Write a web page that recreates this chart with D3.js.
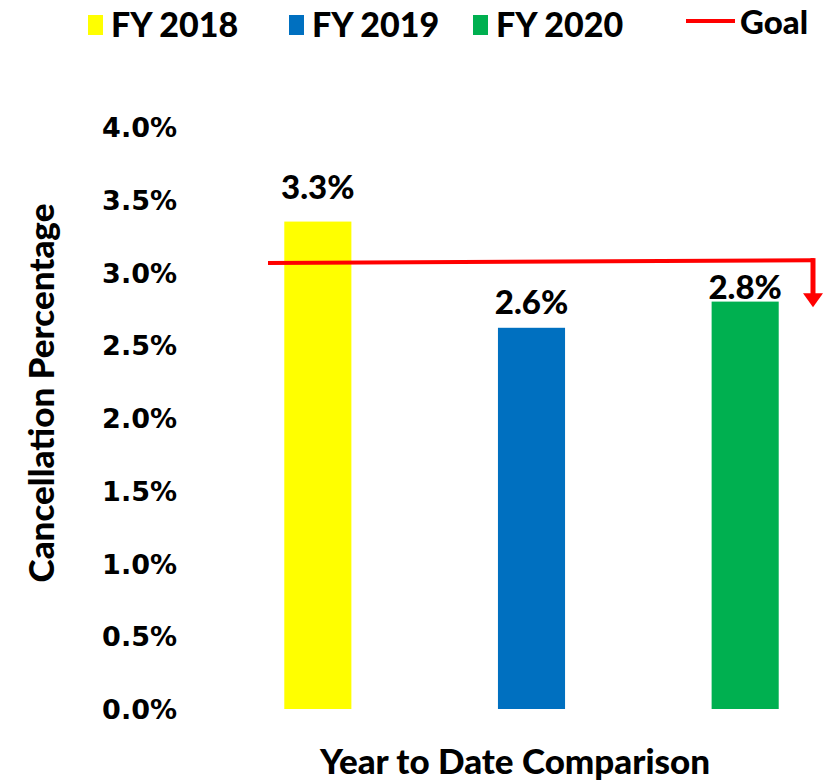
<!DOCTYPE html>
<html>
<head>
<meta charset="utf-8">
<script src="https://cdn.jsdelivr.net/npm/d3@7"></script>
<style>
  body { margin: 0; background: #fff; }
  text { fill: #000; }
  .lbl { font-family: Lato, "Open Sans", sans-serif; font-weight: 900; }
</style>
</head>
<body>
<div id="viz"></div>
<script>
// chart data
categories = ['FY 2018', 'FY 2019', 'FY 2020'];
values = [0.0335, 0.0262, 0.0280];
valueLabels = ['3.3%', '2.6%', '2.8%'];
colors = ['#ffff00', '#0070c0', '#00b050'];
goal = [0.03065, 0.03085]; // goal line, drawn slightly off level in the original
yTicks = [0, 0.005, 0.01, 0.015, 0.02, 0.025, 0.03, 0.035, 0.04];

width = 837;
height = 781;
labelLift = [23, 14, 3]; // labels sit at uneven heights above the bars

svg = d3.select('#viz').append('svg')
	.attr('width', width)
	.attr('height', height);

// scales
yScale = d3.scaleLinear()
	.domain([0, 0.04])
	.range([709, 127]);

xScale = d3.scaleBand()
	.domain(categories)
	.range([211, 852])
	.paddingInner(0.686)
	.paddingOuter(0.343);

// y tick labels (no axis line, no tick marks)
yAxis = svg.append('g')
	.attr('transform', 'translate(177,0)')
	.call(d3.axisLeft(yScale).tickValues(yTicks).tickSize(0).tickPadding(0)
		.tickFormat(d3.format('.1%')));
yAxis.select('.domain').remove();
yAxis.selectAll('text')
	.attr('font-family', 'DejaVu Sans, Verdana, sans-serif')
	.attr('font-size', 27)
	.attr('font-weight', 'bold')
	.attr('fill', '#000')
	.attr('dy', '0.36em');

// bars
svg.selectAll('rect.bar')
	.data(values)
	.enter()
	.append('rect')
	.attr('class', 'bar')
	.attr('x', (d, i) => xScale(categories[i]))
	.attr('width', xScale.bandwidth())
	.attr('y', d => yScale(d))
	.attr('height', d => yScale(0) - yScale(d))
	.attr('fill', (d, i) => colors[i]);

// value labels
svg.selectAll('text.val')
	.data(values)
	.enter()
	.append('text')
	.attr('class', 'lbl val')
	.attr('font-size', 33)
	.attr('text-anchor', 'middle')
	.attr('x', (d, i) => xScale(categories[i]) + xScale.bandwidth() / 2)
	.attr('y', (d, i) => yScale(d) - labelLift[i])
	.text((d, i) => valueLabels[i]);

// goal line with the down arrow at its end
gx1 = 268;
gx2 = 814;
svg.append('line')
	.attr('x1', gx1)
	.attr('x2', gx2)
	.attr('y1', yScale(goal[0]))
	.attr('y2', yScale(goal[1]))
	.attr('stroke', '#ff0000')
	.attr('stroke-width', 4);
svg.append('line')
	.attr('x1', gx2 - 1)
	.attr('x2', gx2 - 1)
	.attr('y1', yScale(goal[1]) - 2)
	.attr('y2', yScale(goal[1]) + 34)
	.attr('stroke', '#ff0000')
	.attr('stroke-width', 5);
svg.append('path')
	.attr('d', d3.line()([
		[gx2 - 11, yScale(goal[1]) + 33],
		[gx2 + 9, yScale(goal[1]) + 33],
		[gx2 - 1, yScale(goal[1]) + 47]
	]) + 'Z')
	.attr('fill', '#ff0000');

// legend
legendX = [88, 289, 473];
legend = svg.selectAll('g.legend')
	.data(categories)
	.enter()
	.append('g')
	.attr('class', 'legend')
	.attr('transform', (d, i) => 'translate(' + legendX[i] + ',0)');
legend.append('rect')
	.attr('x', 0)
	.attr('y', 15)
	.attr('width', 15)
	.attr('height', 20)
	.attr('fill', (d, i) => colors[i]);
legend.append('text')
	.attr('class', 'lbl')
	.attr('font-size', 34)
	.attr('x', 23)
	.attr('y', 37)
	.text(d => d);

svg.append('line')
	.attr('x1', 686)
	.attr('x2', 735)
	.attr('y1', 21)
	.attr('y2', 21)
	.attr('stroke', '#ff0000')
	.attr('stroke-width', 4);
svg.append('text')
	.attr('class', 'lbl')
	.attr('font-size', 33)
	.attr('x', 740)
	.attr('y', 34)
	.text('Goal');

// axis titles
svg.append('text')
	.attr('class', 'lbl')
	.attr('font-size', 35)
	.attr('text-anchor', 'middle')
	.attr('transform', 'translate(54,393) rotate(-90)')
	.text('Cancellation Percentage');

svg.append('text')
	.attr('class', 'lbl')
	.attr('font-size', 35)
	.attr('text-anchor', 'middle')
	.attr('x', 515)
	.attr('y', 774)
	.text('Year to Date Comparison');
</script>
</body>
</html>
